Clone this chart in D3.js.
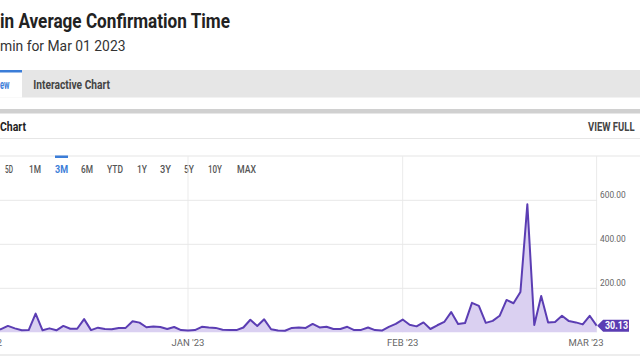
<!DOCTYPE html>
<html>
<head>
<meta charset="utf-8">
<script src="https://cdn.jsdelivr.net/npm/d3@7"></script>
<style>
html,body{margin:0;padding:0;background:#fff;overflow:hidden;}
svg{display:block;font-family:Roboto,"Noto Sans",sans-serif;}
</style>
</head>
<body>
<svg id="chart" width="640" height="360"></svg>
<script>
// ---------- data ----------
const seriesStart = "2022-12-04";
const confirmationMinutes = [
  14,14,29,18,9,10,85,9,18,9,29,16,16,60,10,21,15,14,20,20,50,44,23,26,24,15,24,10,
  8,10,25,22,20,12,11,10,22,57,29,59,14,8,7,20,22,20,38,22,25,15,15,25,10,11,22,10,8,25,38,
  58,34,27,45,15,32,47,92,38,42,134,120,43,52,75,147,132,183,582,33,165,44,47,75,51,45,36,75,
  30.13
];
const yTicks = [200, 400, 600];
const xTickDates = ["2022-12-01", "2023-01-01", "2023-02-01", "2023-03-01"];
const xTickLabels = ["DEC '22", "JAN '23", "FEB '23", "MAR '23"];
const rangeButtons = ["5D","1M","3M","6M","YTD","1Y","3Y","5Y","10Y","MAX"];
const activeRange = "3M";
const lastValueLabel = "30.13";
const titleText = "in Average Confirmation Time";
const subtitleText = "min for Mar 01 2023";

// ---------- setup ----------
const svg = d3.select("#chart");
const parse = d3.timeParse("%Y-%m-%d");
const start = parse(seriesStart);
const data = confirmationMinutes.map((v, i) => ({date: d3.timeDay.offset(start, i), value: v}));

const x = d3.scaleTime()
  .domain([parse("2022-12-01"), parse("2023-03-01")])
  .range([-26.7, 596.6]);
const y = d3.scaleLinear().domain([0, 600]).range([332.3, 200.3]);

function condensedText(txt, xPos, yPos, width, opts) {
  const t = svg.append("text").attr("x", xPos).attr("y", yPos)
    .attr("font-size", opts.size).attr("font-weight", opts.weight || 400)
    .attr("fill", opts.fill).attr("text-anchor", opts.anchor || "start")
    .text(txt);
  if (width) t.attr("textLength", width).attr("lengthAdjust", "spacingAndGlyphs");
  return t;
}

// ---------- header ----------
condensedText(titleText, 0, 27.6, 230, {size: 20, weight: 700, fill: "#222"});
condensedText(subtitleText, 0, 50.6, 125.5, {size: 15.5, fill: "#333"});

// tabs
svg.append("rect").attr("x", 0).attr("y", 70).attr("width", 640).attr("height", 27.5).attr("fill", "#e6e6e6");
svg.append("rect").attr("x", 0).attr("y", 70).attr("width", 22).attr("height", 27.5).attr("fill", "#fff");
svg.append("rect").attr("x", 0).attr("y", 70).attr("width", 22).attr("height", 2.5).attr("fill", "#3b7dd8");
condensedText("ew", 0, 88.5, 9.5, {size: 12, weight: 700, fill: "#3b7dd8"});
condensedText("Interactive Chart", 33.3, 88.5, 76.7, {size: 12, weight: 700, fill: "#444"});

svg.append("rect").attr("x", 0).attr("y", 109).attr("width", 640).attr("height", 4.5).attr("fill", "#d0d0d0");
condensedText("Chart", 0, 130.5, 26, {size: 12, weight: 700, fill: "#222"});
condensedText("VIEW FULL", 588, 130.5, 46.5, {size: 12, weight: 700, fill: "#444"});
svg.append("rect").attr("x", 0).attr("y", 138).attr("width", 640).attr("height", 1).attr("fill", "#e6e6e6");

// range buttons
svg.append("rect").attr("x", 0).attr("y", 155.5).attr("width", 640).attr("height", 1).attr("fill", "#e6e6e6");
const btnX = [5, 29, 55, 81, 107, 137, 160, 184, 208, 237];
const btnW = [8, 12, 13, 12, 16, 10, 11, 10, 14, 19];
rangeButtons.forEach((b, i) => {
  const active = b === activeRange;
  condensedText(b, btnX[i], 172.5, btnW[i], {size: 10.5, weight: active ? 700 : 500, fill: active ? "#3b7dd8" : "#555"});
  if (active) svg.append("rect").attr("x", btnX[i]).attr("y", 155.5).attr("width", btnW[i]).attr("height", 2.5).attr("fill", "#3b7dd8");
});

// ---------- grid ----------
const grid = svg.append("g");
xTickDates.forEach(d => {
  const xp = x(parse(d));
  grid.append("line").attr("x1", xp).attr("x2", xp).attr("y1", 156).attr("y2", 332.3)
    .attr("stroke", "#ebebeb").attr("stroke-width", 1);
});
yTicks.forEach(t => {
  grid.append("line").attr("x1", 0).attr("x2", 597).attr("y1", y(t)).attr("y2", y(t))
    .attr("stroke", "#e8e8e8").attr("stroke-width", 1);
  condensedText(d3.format(".2f")(t), 600, y(t) - 2, 25.7, {size: 9.5, fill: "#666"});
});

// ---------- series ----------
const area = d3.area().x(d => x(d.date)).y0(y(0)).y1(d => y(d.value));
const line = d3.line().x(d => x(d.date)).y(d => y(d.value));
svg.append("path").datum(data).attr("d", area).attr("fill", "#dad0f1");
svg.append("path").datum(data).attr("d", line).attr("fill", "none")
  .attr("stroke", "#5b3db3").attr("stroke-width", 2).attr("stroke-linejoin", "round");

// ---------- x labels ----------
xTickLabels.forEach((lab, i) => {
  const xp = x(parse(xTickDates[i]));
  let anchor = "middle", xx = xp;
  if (i === 0) { anchor = "end"; xx = 2; }
  if (i === xTickLabels.length - 1) { anchor = "end"; xx = 603.5; }
  svg.append("text").attr("x", xx).attr("y", 345.5).attr("text-anchor", anchor)
    .attr("font-size", 9.5).attr("fill", "#666").text(lab);
});

// ---------- last value badge ----------
const last = data[data.length - 1];
const by = y(last.value);
const bx = x(last.date) + 0.5;
svg.append("path")
  .attr("d", `M${bx},${by} L${bx + 6},${by - 6} L629,${by - 6} L629,${by + 6} L${bx + 6},${by + 6} Z`)
  .attr("fill", "#5b3db3");
condensedText(lastValueLabel, 616.5, by + 3.6, 23, {size: 10.5, weight: 700, fill: "#fff", anchor: "middle"});

svg.append("rect").attr("x", 0).attr("y", 354.5).attr("width", 640).attr("height", 1).attr("fill", "#dcdcdc");
</script>
</body>
</html>
